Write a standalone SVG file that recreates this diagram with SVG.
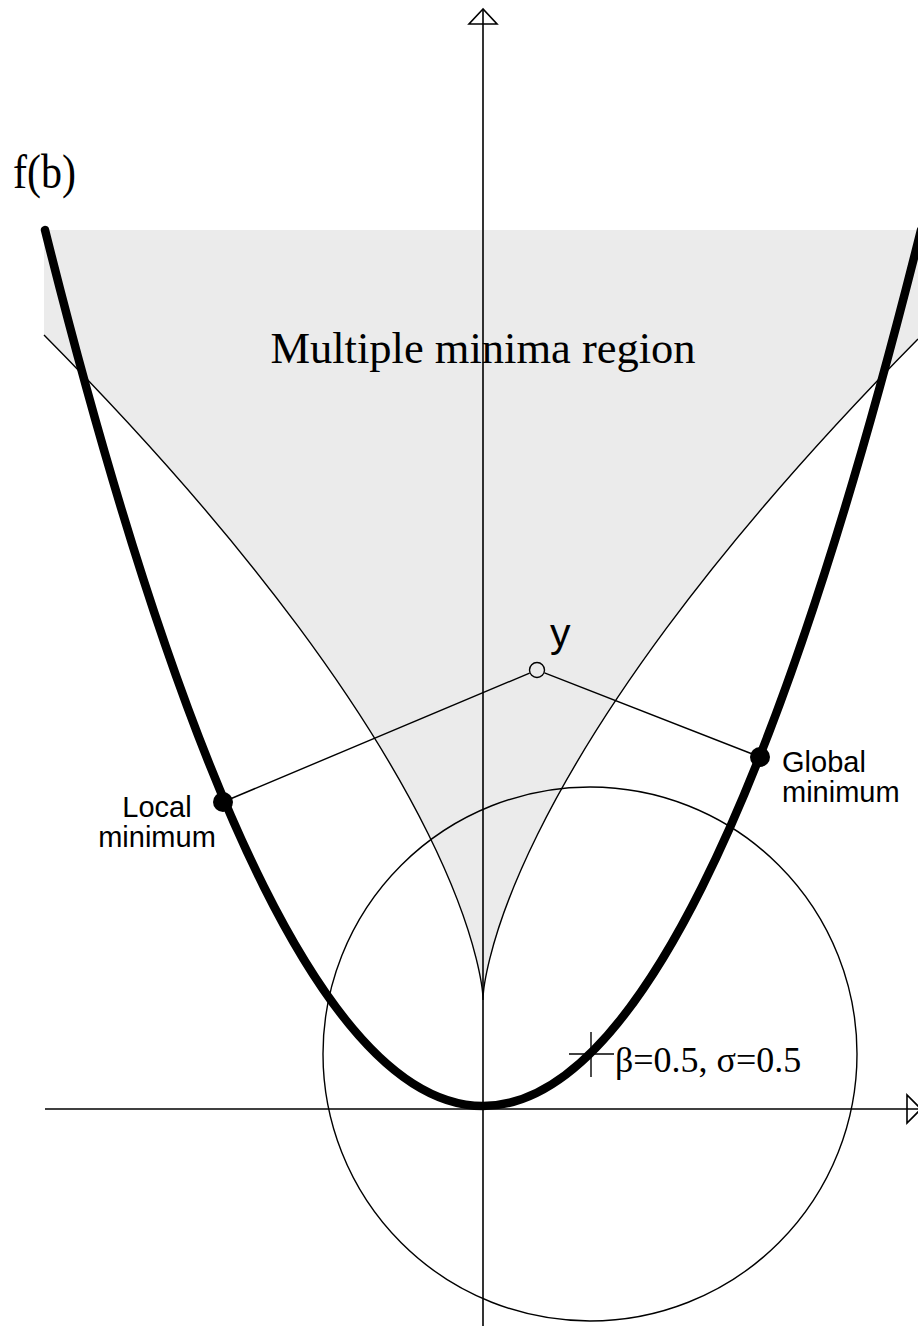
<svg xmlns="http://www.w3.org/2000/svg" width="918" height="1326" viewBox="0 0 918 1326">
<style>
.thin{fill:none;stroke:#000;stroke-width:1.4}
.axis{fill:none;stroke:#000;stroke-width:1.6}
.serif{font-family:"Liberation Serif","Times New Roman",serif;fill:#000}
.sans{font-family:"Liberation Sans",Arial,sans-serif;fill:#000}
.dot{fill:#000}
</style>
<rect x="0" y="0" width="918" height="1326" fill="#fff"/>
<g id="region">
<path d="M44 230 L918 230 L918 339 C483 779.7 483 1000 483 1000 C483 1000 483 778.3 44 335 Z" fill="#ebebeb"/>
<text class="serif" x="483" y="363" font-size="44.5" text-anchor="middle">Multiple minima region</text>
</g>
<g id="axes">
<line class="axis" x1="483" y1="1326" x2="483" y2="10"/>
<path class="axis" d="M483 9 L469 24 L497 24 Z" fill="none"/>
<line class="axis" x1="45" y1="1109" x2="920" y2="1109"/>
<path class="axis" d="M921 1109 L907 1095 L907 1123 Z" fill="none"/>
</g>
<g id="boundary">
<path class="thin" d="M918 339 C483 779.7 483 1000 483 1000 C483 1000 483 778.3 44 335"/>
</g>
<g id="circle">
<circle class="thin" cx="590" cy="1054" r="267"/>
<line class="thin" x1="569" y1="1054" x2="614" y2="1054"/>
<line class="thin" x1="591" y1="1032" x2="591" y2="1077"/>
<text class="serif" x="615" y="1072" font-size="36">β=0.5, σ=0.5</text>
</g>
<g id="parabola">
<path d="M45 230 Q483 1982 921 230" fill="none" stroke="#000" stroke-width="8.5" stroke-linecap="round"/>
<text class="serif" transform="translate(13 188) scale(1 1.15)" font-size="42">f(b)</text>
</g>
<g id="connectors">
<line class="thin" x1="529.6" y1="673.1" x2="223" y2="802"/>
<line class="thin" x1="544.5" y1="672.9" x2="760" y2="757"/>
</g>
<g id="point-y">
<circle cx="537" cy="670" r="7.5" fill="none" stroke="#000" stroke-width="1.4"/>
<text class="sans" x="550" y="647" font-size="41">y</text>
</g>
<g id="local-min">
<circle class="dot" cx="223" cy="802" r="10"/>
<text class="sans" x="157" y="817" font-size="29" text-anchor="middle">Local</text>
<text class="sans" x="157" y="847" font-size="29" text-anchor="middle">minimum</text>
</g>
<g id="global-min">
<circle class="dot" cx="760" cy="757" r="10"/>
<text class="sans" x="782" y="772" font-size="29">Global</text>
<text class="sans" x="782" y="802" font-size="29">minimum</text>
</g>
</svg>
